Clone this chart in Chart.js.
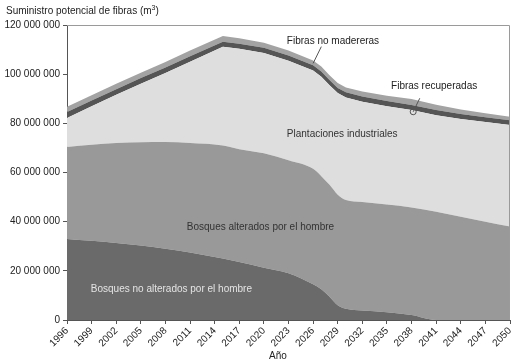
<!DOCTYPE html>
<html>
<head>
<meta charset="utf-8">
<script src="https://cdn.jsdelivr.net/npm/chart.js@4.4.0/dist/chart.umd.min.js"></script>
<style>
  html, body { margin: 0; padding: 0; background: #fff; }
  #wrap { width: 524px; height: 364px; }
</style>
</head>
<body>
<div id="wrap"><canvas id="myChart" width="524" height="364"></canvas></div>
<script>
var years = [1996, 1999, 2002, 2005, 2008, 2011, 2015, 2017, 2020, 2023, 2026, 2027, 2028, 2029, 2030, 2032, 2035, 2038, 2041, 2044, 2047, 2050];
var noAlterados = [33, 32.2, 31.3, 30.3, 29, 27.5, 25, 23.6, 21.3, 19, 14.5, 12.5, 9.5, 6, 4.6, 3.9, 3.2, 2, 0, 0, 0, 0];
var alterados = [37.4, 39.1, 40.7, 42, 43.4, 44.5, 46, 45.9, 46.5, 46, 47, 46, 45.5, 45, 44.2, 44.1, 43.8, 43.8, 44, 42, 40, 38];
var plantaciones = [11.8, 15.6, 19.6, 23.8, 28.1, 33.1, 40.2, 40.8, 40.8, 40.5, 40, 40.5, 40.5, 41.3, 41.7, 40.8, 40, 39.6, 39.3, 39.8, 40.5, 41.3];
var recuperadas = [2.4, 2.4, 2.3, 2.3, 2.2, 2.2, 2.0, 2.1, 2.1, 2.1, 2.1, 2.1, 2.1, 2.1, 2.1, 2.1, 2.1, 2.1, 2.1, 2.0, 2.0, 2.0];
var noMadereras = [2.1, 2.1, 2.2, 2.2, 2.2, 2.3, 2.3, 2.2, 2.1, 2.0, 2.0, 2.0, 2.0, 2.0, 2.0, 2.0, 2.1, 2.4, 2.2, 1.8, 1.6, 1.4];

var xTicks = [1996, 1999, 2002, 2005, 2008, 2011, 2014, 2017, 2020, 2023, 2026, 2029, 2032, 2035, 2038, 2041, 2044, 2047, 2050];
var yTicks = [0, 20, 40, 60, 80, 100, 120];

var font = "'Liberation Sans', Arial, sans-serif";

function pts(values) {
    return values.map(function(v, i) { return { x: years[i], y: v }; });
}

function spaced(n) {
    return String(n).replace(/\B(?=(\d{3})+(?!\d))/g, ' ');
}

function layer(label, values, color, fill, smooth) {
    return {
        label: label,
        data: pts(values),
        backgroundColor: color,
        borderWidth: 0,
        pointRadius: 0,
        fill: fill,
        cubicInterpolationMode: smooth ? 'monotone' : 'default',
        tension: 0
    };
}

// texts placed in data coordinates (year, millions)
var notes = [
    { text: 'Fibras no madereras', x: 2022.8, y: 113.2, color: '#222' },
    { text: 'Fibras recuperadas', x: 2035.5, y: 95.2, color: '#222' },
    { text: 'Plantaciones industriales', x: 2022.8, y: 75.7, color: '#333' },
    { text: 'Bosques alterados por el hombre', x: 2010.6, y: 37.8, color: '#333' },
    { text: 'Bosques no alterados por el hombre', x: 1998.9, y: 12.6, color: '#e4e4e4' }
];

var extras = {
    id: 'extras',
    afterDraw: function(chart) {
        var c = chart.ctx, a = chart.chartArea;
        var xs = chart.scales.x, ys = chart.scales.y;
        c.save();
        // frame top / right
        c.strokeStyle = '#9a9a9a';
        c.lineWidth = 1;
        c.beginPath();
        c.moveTo(a.left, a.top + 0.5);
        c.lineTo(a.right - 0.5, a.top + 0.5);
        c.lineTo(a.right - 0.5, a.bottom);
        c.stroke();

        c.font = '10px ' + font;
        c.textBaseline = 'middle';
        c.textAlign = 'left';
        notes.forEach(function(n) {
            c.fillStyle = n.color;
            c.fillText(n.text, xs.getPixelForValue(n.x), ys.getPixelForValue(n.y));
        });

        // leader lines
        c.strokeStyle = '#555';
        c.beginPath();
        c.moveTo(xs.getPixelForValue(2027.0), ys.getPixelForValue(111.2));
        c.lineTo(xs.getPixelForValue(2026.0), ys.getPixelForValue(104.4));
        c.moveTo(xs.getPixelForValue(2039.0), ys.getPixelForValue(90.2));
        c.lineTo(xs.getPixelForValue(2038.2), ys.getPixelForValue(84.7));
        c.stroke();
        c.beginPath();
        c.arc(xs.getPixelForValue(2038.2), ys.getPixelForValue(84.7), 3, 0, Math.PI * 2);
        c.stroke();

        // titles
        c.fillStyle = '#222';
        c.fillText('Suministro potencial de fibras (m', 6, 11);
        var w = c.measureText('Suministro potencial de fibras (m').width;
        c.font = '7px ' + font;
        c.fillText('3', 6 + w, 8);
        var w3 = c.measureText('3').width;
        c.font = '10px ' + font;
        c.fillText(')', 6 + w + w3, 11);
        c.fillText('Año', 269, 356);
        c.restore();
    }
};

var ctx = document.getElementById('myChart');
var myChart = new Chart(ctx, {
    type: 'line',
    data: {
        datasets: [
            layer('Bosques no alterados por el hombre', noAlterados, '#6a6a6a', 'origin', true),
            layer('Bosques alterados por el hombre', alterados, '#999999', '-1', true),
            layer('Plantaciones industriales', plantaciones, '#dedede', '-1', false),
            layer('Fibras recuperadas', recuperadas, '#555555', '-1', false),
            layer('Fibras no madereras', noMadereras, '#a3a3a3', '-1', false)
        ]
    },
    options: {
        responsive: false,
        animation: false,
        layout: { padding: { left: 0, right: 14, top: 25, bottom: 0 } },
        plugins: { legend: { display: false }, tooltip: { enabled: false } },
        scales: {
            x: {
                type: 'linear',
                min: 1996,
                max: 2050,
                afterBuildTicks: function(s) { s.ticks = xTicks.map(function(v) { return { value: v }; }); },
                afterFit: function(s) { s.height = 44; },
                ticks: {
                    minRotation: 45, maxRotation: 45, padding: 1,
                    color: '#222', font: { family: font, size: 10 },
                    callback: function(v) { return String(v); }
                },
                grid: { drawOnChartArea: false, drawTicks: true, tickLength: 4, color: '#555' },
                border: { color: '#555' }
            },
            y: {
                stacked: true,
                min: 0,
                max: 120,
                afterBuildTicks: function(s) { s.ticks = yTicks.map(function(v) { return { value: v }; }); },
                afterFit: function(s) { s.width = 67; },
                ticks: {
                    padding: 3,
                    color: '#222', font: { family: font, size: 10 },
                    callback: function(v) { return spaced(v * 1000000); }
                },
                grid: { drawOnChartArea: false, drawTicks: true, tickLength: 4, color: '#555' },
                border: { color: '#555' }
            }
        }
    },
    plugins: [extras]
});
</script>
</body>
</html>
